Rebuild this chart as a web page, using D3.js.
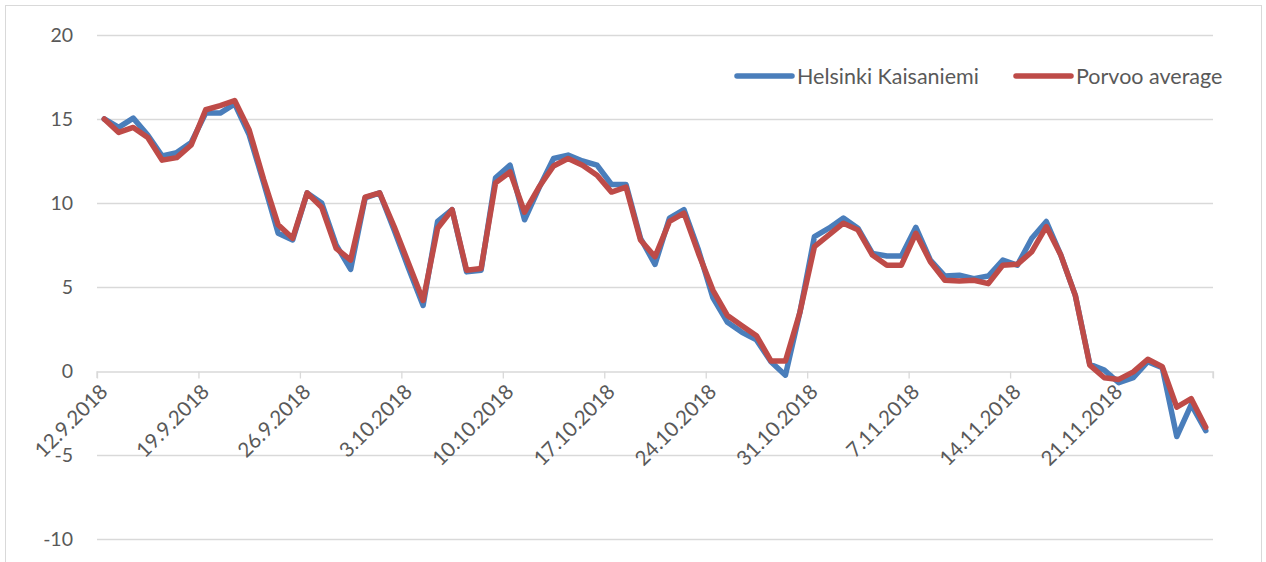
<!DOCTYPE html>
<html><head><meta charset="utf-8">
<script src="https://cdn.jsdelivr.net/npm/d3@7"></script>
<style>
html,body{margin:0;padding:0;background:#fff;}
svg{display:block;}
text{font-family:Lato,"Open Sans",sans-serif;fill:#595959;}
</style></head><body>
<svg id="c" width="1266" height="562"></svg>
<script>
const startDate = "12.9.2018";
const endDate = "28.11.2018";
const seriesNames = ["Helsinki Kaisaniemi", "Porvoo average"];
const seriesColors = ["#4A7EBB", "#BE4B48"];
const helsinki = [15.0,14.5,15.05,14.05,12.8,13.0,13.6,15.35,15.35,15.9,14.05,11.2,8.2,7.8,10.6,10.0,7.5,6.05,10.3,10.6,8.4,6.1,3.9,8.9,9.6,5.9,6.0,11.5,12.25,9.0,10.9,12.65,12.85,12.5,12.25,11.1,11.1,7.9,6.35,9.1,9.6,7.2,4.35,2.9,2.3,1.85,0.55,-0.25,3.5,8.0,8.5,9.1,8.5,7.0,6.85,6.85,8.55,6.6,5.65,5.7,5.5,5.65,6.6,6.3,7.9,8.9,6.9,4.5,0.4,0.05,-0.7,-0.4,0.55,0.2,-3.9,-2.0,-3.55];
const porvoo = [15.0,14.2,14.5,13.9,12.55,12.7,13.45,15.55,15.8,16.1,14.35,11.4,8.7,7.9,10.6,9.75,7.3,6.6,10.35,10.6,8.6,6.4,4.2,8.5,9.6,6.0,6.1,11.2,11.85,9.45,10.95,12.2,12.65,12.25,11.65,10.65,10.95,7.8,6.8,8.9,9.4,7.0,4.8,3.3,2.7,2.1,0.6,0.6,3.5,7.4,8.1,8.8,8.4,6.9,6.3,6.3,8.2,6.5,5.4,5.35,5.4,5.2,6.3,6.35,7.1,8.6,6.9,4.5,0.35,-0.4,-0.5,-0.05,0.7,0.25,-2.15,-1.65,-3.35];
const tickLabels = ["12.9.2018","19.9.2018","26.9.2018","3.10.2018","10.10.2018","17.10.2018","24.10.2018","31.10.2018","7.11.2018","14.11.2018","21.11.2018"];
const yTicks = [-10,-5,0,5,10,15,20];

const parse = d3.timeParse("%d.%m.%Y");
const svg = d3.select("#c");

// chart border
svg.append("rect").attr("x",5.5).attr("y",5.5).attr("width",1256).attr("height",560)
  .attr("fill","#fff").attr("stroke","#D9D9D9").attr("stroke-width",1);

const x = d3.scaleTime().domain([parse(startDate), parse(endDate)]).range([97, 1213]);
const y = d3.scaleLinear().domain([-10, 20]).range([539, 35]);

const days = helsinki.map((_, i) => d3.timeHour.offset(d3.timeDay.offset(parse(startDate), i), 12));

// gridlines
svg.append("g").selectAll("line").data(yTicks.filter(v => v !== 0)).join("line")
  .attr("x1",97).attr("x2",1213)
  .attr("y1",d=>Math.round(y(d))+0.5).attr("y2",d=>Math.round(y(d))+0.5)
  .attr("stroke","#D9D9D9").attr("stroke-width",1.3);

// y labels
svg.append("g").selectAll("text").data(yTicks).join("text")
  .attr("x",73).attr("y",d=>y(d)).attr("dy","0.36em")
  .attr("text-anchor","end").attr("font-size",19.5).text(d=>d);

// x axis at 0
const tickDates = tickLabels.map(parse).concat([parse(endDate)]);
const xAxis = d3.axisBottom(x).tickValues(tickDates).tickSize(7).tickFormat("");
const gx = svg.append("g").attr("transform",`translate(0,${Math.round(y(0))+0.5})`).call(xAxis);
gx.select(".domain").attr("stroke","#D9D9D9").attr("stroke-width",1.3).attr("d",`M97,6.5V0.5H1213V6.5`);
gx.selectAll(".tick line").attr("stroke","#D9D9D9").attr("stroke-width",1.3);

svg.append("g").selectAll("text").data(tickLabels).join("text")
  .attr("transform",d=>`translate(${x(parse(d))+12},${y(0)+22}) rotate(-45)`)
  .attr("text-anchor","end").attr("font-size",20.5).text(d=>d);

// lines
const line = d3.line().x((d,i)=>x(days[i])).y(d=>y(d)).curve(d3.curveLinear);
[helsinki, porvoo].forEach((s, k) => {
  svg.append("path").datum(s).attr("d",line).attr("fill","none")
    .attr("stroke",seriesColors[k]).attr("stroke-width",5.5)
    .attr("stroke-linejoin","round").attr("stroke-linecap","round");
});

// legend
const legX = [737, 1016];
const legend = svg.append("g");
seriesNames.forEach((n,k)=>{
  legend.append("line").attr("x1",legX[k]).attr("x2",legX[k]+55).attr("y1",76).attr("y2",76)
    .attr("stroke",seriesColors[k]).attr("stroke-width",5.5).attr("stroke-linecap","round");
  legend.append("text").attr("x",legX[k]+60).attr("y",76).attr("dy","0.36em")
    .attr("font-size",21.5).text(n);
});
</script></body></html>
